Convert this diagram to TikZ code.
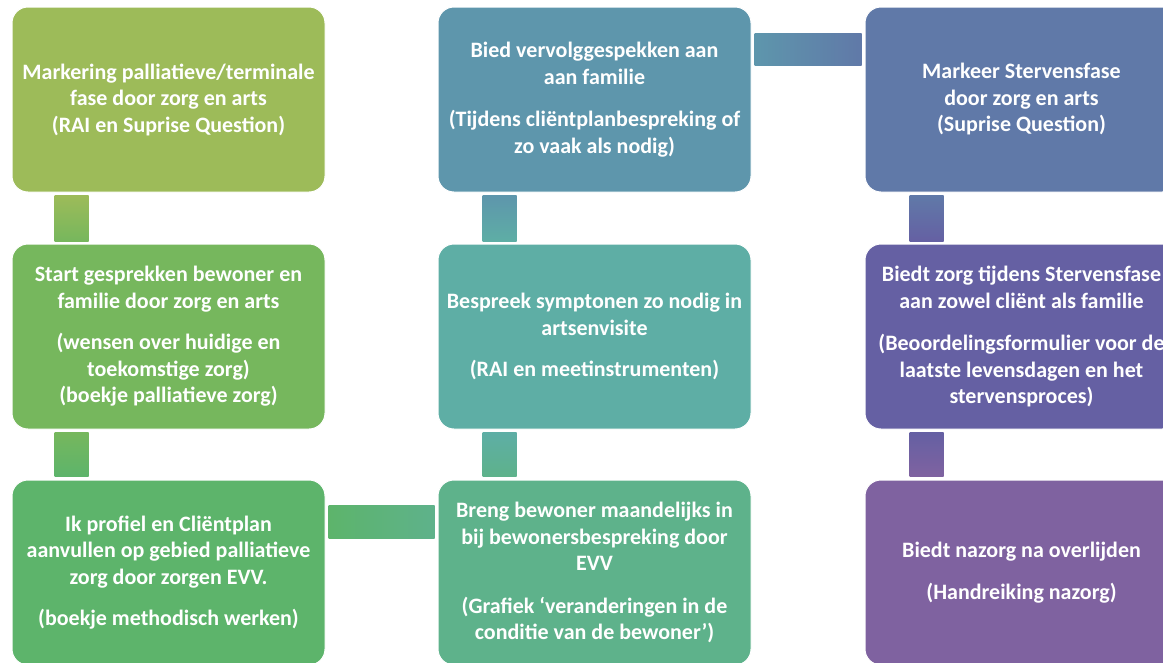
\documentclass[tikz,border=0pt]{standalone}
\usepackage{fontspec}
\setmainfont{Carlito}
\begin{document}
\begin{tikzpicture}[x=1pt,y=-1pt,
  stage/.style={rounded corners=16pt, draw=white, line width=1pt,
    minimum width=313pt, minimum height=185pt, inner sep=0pt,
    align=center, text=white,
    font=\bfseries\fontsize{22}{26.5}\selectfont},
  link/.style={draw=none}]
\definecolor{cA}{RGB}{157,187,89}
\definecolor{cB}{RGB}{118,183,93}
\definecolor{cC}{RGB}{93,180,107}
\definecolor{cD}{RGB}{94,178,139}
\definecolor{cE}{RGB}{94,174,165}
\definecolor{cF}{RGB}{94,150,172}
\definecolor{cG}{RGB}{96,121,168}
\definecolor{cH}{RGB}{101,96,163}
\definecolor{cI}{RGB}{127,98,160}
\useasboundingbox (0,0) rectangle (1163,662);
\fill[white] (0,0) rectangle (1163,662);

% column 1
\node[stage, fill=cA] (s1) at (168.5,99.5)
  {Markering palliatieve/terminale\\fase door zorg en arts\\(RAI en Suprise Question)};
\node[stage, fill=cB] (s2) at (168.5,336.5)
  {Start gesprekken bewoner en\\familie door zorg en arts\\[15pt](wensen over huidige en\\toekomstige zorg)\\(boekje palliatieve zorg)};
\node[stage, fill=cC] (s3) at (168.5,572.5)
  {Ik profiel en Cliëntplan\\aanvullen op gebied palliatieve\\zorg door zorgen EVV.\\[15pt](boekje methodisch werken)};
% column 2
\node[stage, fill=cD] (s4) at (594.5,572.5)
  {Breng bewoner maandelijks in\\bij bewonersbespreking door\\EVV\\[16pt](Grafiek ‘veranderingen in de\\conditie van de bewoner’)};
\node[stage, fill=cE] (s5) at (594.5,336.5)
  {Bespreek symptonen zo nodig in\\artsenvisite\\[15pt](RAI en meetinstrumenten)};
\node[stage, fill=cF] (s6) at (594.5,99.5)
  {Bied vervolggespekken aan\\aan familie\\[16pt](Tijdens cliëntplanbespreking of\\zo vaak als nodig)};
% column 3
\node[stage, fill=cG] (s7) at (1021.5,99.5)
  {Markeer Stervensfase\\door zorg en arts\\(Suprise Question)};
\node[stage, fill=cH] (s8) at (1021.5,336.5)
  {Biedt zorg tijdens Stervensfase\\aan zowel cliënt als familie\\[16pt](Beoordelingsformulier voor de\\laatste levensdagen en het\\stervensproces)};
\node[stage, fill=cI] (s9) at (1021.5,572.5)
  {Biedt nazorg na overlijden\\[15pt](Handreiking nazorg)};

% vertical links (shifts are in page units: positive yshift points up)
\shade[link, top color=cA, bottom color=cB]
  ([xshift=43pt,yshift=-3pt]s1.south west) rectangle ([xshift=77pt,yshift=2pt]s2.north west);
\shade[link, top color=cB, bottom color=cC]
  ([xshift=43pt,yshift=-3pt]s2.south west) rectangle ([xshift=77pt,yshift=3pt]s3.north west);
\shade[link, top color=cF, bottom color=cE]
  ([xshift=45pt,yshift=-3pt]s6.south west) rectangle ([xshift=79pt,yshift=2pt]s5.north west);
\shade[link, top color=cE, bottom color=cD]
  ([xshift=45pt,yshift=-3pt]s5.south west) rectangle ([xshift=79pt,yshift=3pt]s4.north west);
\shade[link, top color=cG, bottom color=cH]
  ([xshift=45pt,yshift=-3pt]s7.south west) rectangle ([xshift=79pt,yshift=2pt]s8.north west);
\shade[link, top color=cH, bottom color=cI]
  ([xshift=45pt,yshift=-3pt]s8.south west) rectangle ([xshift=79pt,yshift=3pt]s9.north west);

% horizontal links
\shade[link, left color=cC, right color=cD]
  ([xshift=3pt,yshift=-26pt]s3.north east) rectangle ([xshift=-3pt,yshift=-59pt]s4.north west);
\shade[link, left color=cF, right color=cG]
  ([xshift=3pt,yshift=-27pt]s6.north east) rectangle ([xshift=-3pt,yshift=-59pt]s7.north west);
\end{tikzpicture}
\end{document}
